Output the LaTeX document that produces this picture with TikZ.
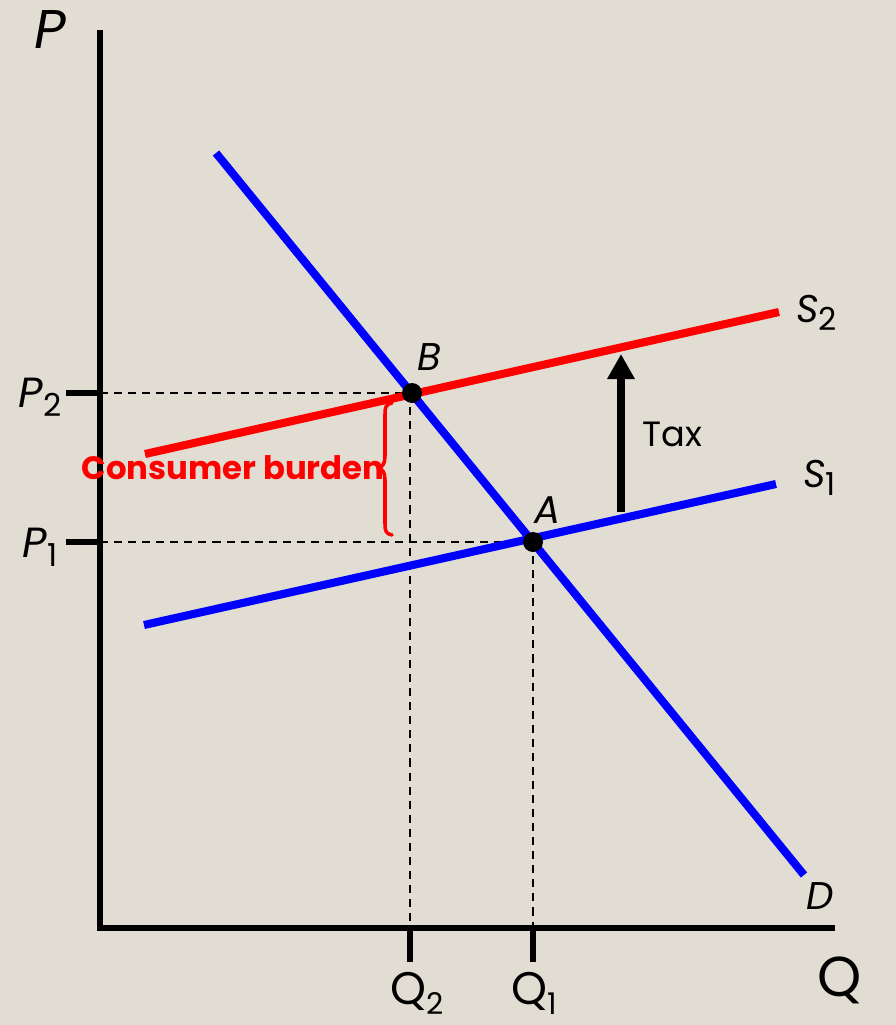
\documentclass[tikz,border=0pt]{standalone}
\usepackage{fontspec}
\setmainfont{Poppins}
\usetikzlibrary{arrows.meta}
\definecolor{bg}{RGB}{226,221,210}
\definecolor{cblue}{RGB}{0,0,255}
\definecolor{cred}{RGB}{255,0,0}
\newcommand\lowsub[2]{\raisebox{-0.4ex}{\fontsize{#1}{#1}\selectfont\upshape #2}}
\begin{document}
\begin{tikzpicture}[x=0.02cm,y=-0.02cm,
  axisline/.style={line width=3.4pt, line join=miter},
  tickline/.style={line width=3.4pt},
  demand/.style={line width=4.6pt, cblue},
  supplyone/.style={line width=4.6pt, cblue},
  supplytwo/.style={line width=4.6pt, cred},
  guide/.style={line width=1.25pt, dash pattern=on 4.6pt off 3.4pt},
  eqdot/.style={circle, fill=black, inner sep=0pt, minimum size=0.4cm},
  lbl/.style={inner sep=0pt, font=\fontsize{22}{26}\selectfont\itshape},
  taxarrow/.style={line width=4.5pt, -{Triangle[width=0.52cm,length=0.5cm]}},
  bracestyle/.style={cred, line width=2pt, line cap=round, line join=round}]
\fill[bg] (0,0) rectangle (896,1025);
\useasboundingbox (0,0) rectangle (896,1025);

% axes
\coordinate (Ytop) at (100,30);
\coordinate (O) at (100,928);
\coordinate (Xend) at (835,928);
\draw[axisline] (Ytop) -- (O) -- (Xend);

% equilibrium points
\coordinate (B) at (412,393);
\coordinate (A) at (533,542);

% ticks
\coordinate (P2t) at (66,393);
\coordinate (P2a) at (100,393);
\coordinate (P1t) at (66,542);
\coordinate (P1a) at (100,542);
\coordinate (Q2a) at (410,928);
\coordinate (Q2t) at (410,962);
\coordinate (Q1a) at (533,928);
\coordinate (Q1t) at (533,962);
\draw[tickline] (P2t) -- (P2a);
\draw[tickline] (P1t) -- (P1a);
\draw[tickline] (Q2a) -- (Q2t);
\draw[tickline] (Q1a) -- (Q1t);

% guides
\draw[guide] (P2a) -- (B);
\draw[guide] (P1a) -- (A);
\draw[guide] (B -| Q2a) -- (Q2a);
\draw[guide] (A) -- (Q1a);

% curves
\coordinate (Dtop) at (216,153);
\coordinate (Dbot) at (804,875);
\coordinate (S1l) at (144,625);
\coordinate (S1r) at (776,484);
\coordinate (S2l) at (145,454);
\coordinate (S2r) at (779,312);
\draw[supplyone] (S1l) -- (S1r);
\draw[supplytwo] (S2l) -- (S2r);
\draw[demand] (Dtop) -- (Dbot);

\node[eqdot] (Bdot) at (B) {};
\node[eqdot] (Adot) at (A) {};

% tax arrow
\coordinate (TaxBot) at (621,512);
\coordinate (TaxTop) at (621,354);
\draw[taxarrow] (TaxBot) -- (TaxTop);
\node[inner sep=0pt, anchor=base west, font=\fontsize{20}{24}\selectfont] (tax) at (642,446) {Tax};

% brace
\coordinate (brTop) at (392,403);
\coordinate (brTip) at (378,468);
\coordinate (brBot) at (392,535);
\draw[bracestyle] (brTop) .. controls (386,404) and (385,407) .. (385,414)
  -- (385,456) .. controls (385,463) and (383,467) .. (brTip)
  .. controls (383,469) and (385,473) .. (385,480)
  -- (385,524) .. controls (385,531) and (386,534) .. (brBot);
\node[inner sep=0pt, anchor=base, cred, font=\fontsize{18.4}{22}\selectfont\bfseries] (burden) at (233,479) {Consumer burden};

% labels
\node[lbl, anchor=center, font=\fontsize{31}{36}\selectfont\itshape] (Plab) at (50,30) {P};
\node[lbl, anchor=base, font=\fontsize{24}{28}\selectfont\itshape] (P2lab) at (40,407) {P\lowsub{18}{2}};
\node[lbl, anchor=base, font=\fontsize{24}{28}\selectfont\itshape] (P1lab) at (40,557) {P\lowsub{18}{1}};
\node[inner sep=0pt, anchor=base, font=\fontsize{26}{30}\selectfont] (Q2lab) at (417,1004) {Q\lowsub{17}{2}};
\node[inner sep=0pt, anchor=base, font=\fontsize{26}{30}\selectfont] (Q1lab) at (534,1004) {Q\lowsub{17}{1}};
\node[inner sep=0pt, anchor=center, font=\fontsize{32}{36}\selectfont] (Qlab) at (840,980) {Q};
\node[lbl, anchor=base] (Blab) at (429,370) {B};
\node[lbl, anchor=base] (Alab) at (548,523) {A};
\node[lbl, anchor=base west] (S2lab) at (796,322) {S\lowsub{18}{2}};
\node[lbl, anchor=base west] (S1lab) at (803,487) {S\lowsub{18}{1}};
\node[lbl, anchor=base] (Dlab) at (820,909) {D};
\end{tikzpicture}
\end{document}
